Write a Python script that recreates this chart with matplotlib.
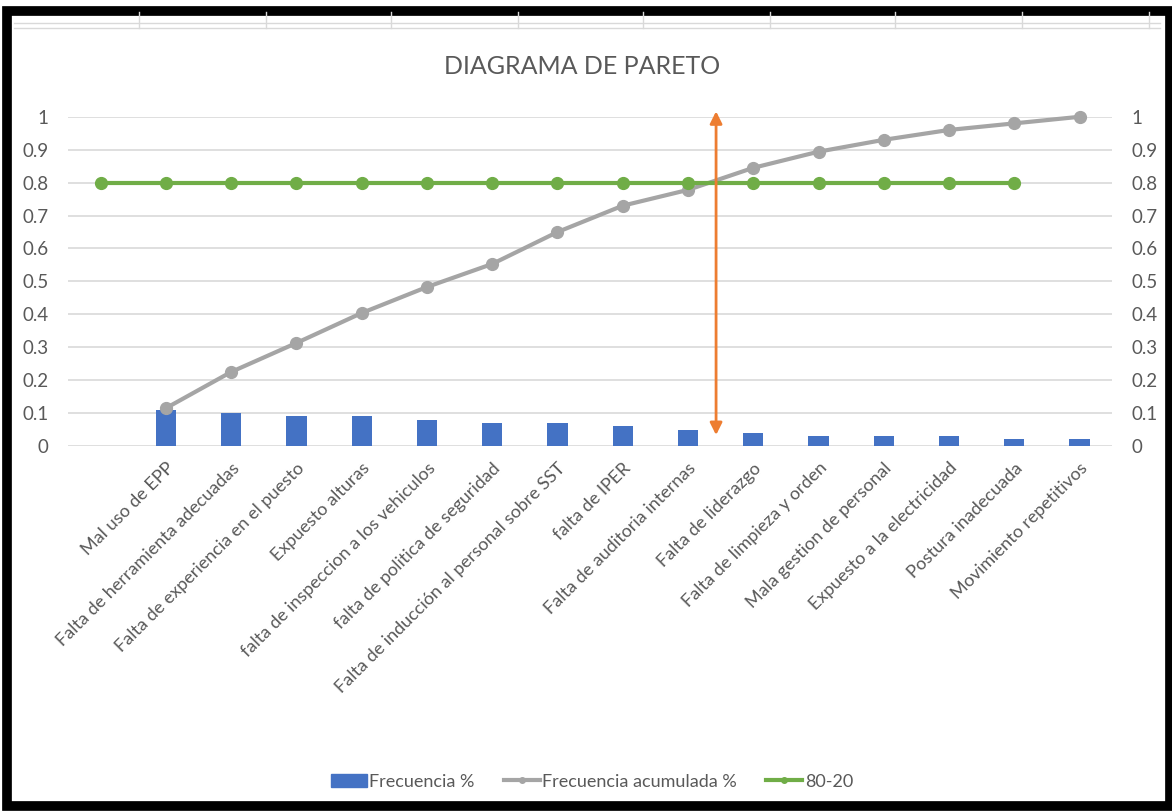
import numpy as np
import matplotlib.pyplot as plt
from matplotlib.lines import Line2D
from matplotlib.patches import Patch, Rectangle

plt.rcParams['font.family'] = ['Lato', 'DejaVu Sans']

causas = ['Mal uso de EPP', 'Falta de herramienta adecuadas',
          'Falta de experiencia en el puesto', 'Expuesto alturas',
          'falta de inspeccion a los vehiculos', 'falta de politica de seguridad',
          'Falta de inducción al personal sobre SST', 'falta de IPER',
          'Falta de auditoria internas', 'Falta de liderazgo',
          'Falta de limpieza y orden', 'Mala gestion de personal',
          'Expuesto a la electricidad', 'Postura inadecuada',
          'Movimiento repetitivos']
frecuencia = [0.11, 0.10, 0.09, 0.09, 0.08, 0.07, 0.07, 0.06, 0.05, 0.04,
              0.03, 0.03, 0.03, 0.02, 0.02]
acumulada = [0.115, 0.225, 0.313, 0.404, 0.483, 0.553, 0.65, 0.73, 0.778,
             0.845, 0.894, 0.93, 0.96, 0.98, 1.0]
linea_80 = [0.8] * 15
ticks = [0, 0.1, 0.2, 0.3, 0.4, 0.5, 0.6, 0.7, 0.8, 0.9, 1]
tick_labels = ['0', '0.1', '0.2', '0.3', '0.4', '0.5', '0.6', '0.7', '0.8', '0.9', '1']

azul = '#4472C4'
gris = '#A5A5A5'
verde = '#70AD47'
naranja = '#ED7D31'
texto = '#595959'

fig = plt.figure(figsize=(11.72, 8.11), dpi=100)
ax = fig.add_axes([0.058, 0.450, 0.891, 0.406])

x = np.arange(len(causas))
ax.bar(x, frecuencia, width=0.31, color=azul, zorder=2)
ax.plot(x, acumulada, color=gris, lw=3, marker='o', ms=8.5, zorder=3, clip_on=False)
# la serie 80-20 va desplazada una categoria a la izquierda
ax.plot(x - 1, linea_80, color=verde, lw=3, marker='o', ms=8.5, zorder=4, clip_on=False)

ax.annotate('', xy=(8.43, 1.025), xytext=(8.43, 0.025),
            arrowprops=dict(arrowstyle='<|-|>', color=naranja, lw=2,
                            mutation_scale=18),
            annotation_clip=False, zorder=5)

ax.set_xlim(-1.5, 14.5)
ax.set_ylim(0, 1)
ax.set_yticks(ticks)
ax.set_yticklabels(tick_labels)
ax.grid(axis='y', color='#D9D9D9', lw=1.2, zorder=0)
for s in ax.spines.values():
    s.set_visible(False)
ax.tick_params(axis='y', length=0, pad=14, labelsize=13.5, colors=texto,
               labelright=True, right=False)
ax.set_xticks(x)
ax.set_xticklabels(causas, rotation=45, ha='right', rotation_mode='anchor',
                   fontsize=13, color=texto)
ax.tick_params(axis='x', length=0, pad=10)

fig.text(0.497, 0.918, 'DIAGRAMA DE PARETO', ha='center', va='center',
         fontsize=18, color=texto)

handles = [Patch(color=azul),
           Line2D([], [], color=gris, lw=3, marker='o', ms=4),
           Line2D([], [], color=verde, lw=3, marker='o', ms=4)]
fig.legend(handles, ['Frecuencia %', 'Frecuencia acumulada %', '80-20'],
           loc='center', bbox_to_anchor=(0.505, 0.036), ncol=3, frameon=False,
           fontsize=13, labelcolor=texto, handlelength=2.0, handletextpad=0.15,
           columnspacing=1.6)

# marco negro y celdas de la hoja de calculo
fig.add_artist(Rectangle((0.006, 0.006), 0.992, 0.98, transform=fig.transFigure,
                         fill=False, edgecolor='black', lw=7))
for yy in [0.972, 0.965]:
    fig.add_artist(Line2D([0.012, 0.99], [yy, yy], transform=fig.transFigure,
                          color='#D9D9D9', lw=1))
for xx in [0.119, 0.227, 0.334, 0.442, 0.549, 0.657, 0.764, 0.872, 0.98]:
    fig.add_artist(Line2D([xx, xx], [0.965, 0.985], transform=fig.transFigure,
                          color='#D9D9D9', lw=1))

fig.savefig('out.png', dpi=100)
